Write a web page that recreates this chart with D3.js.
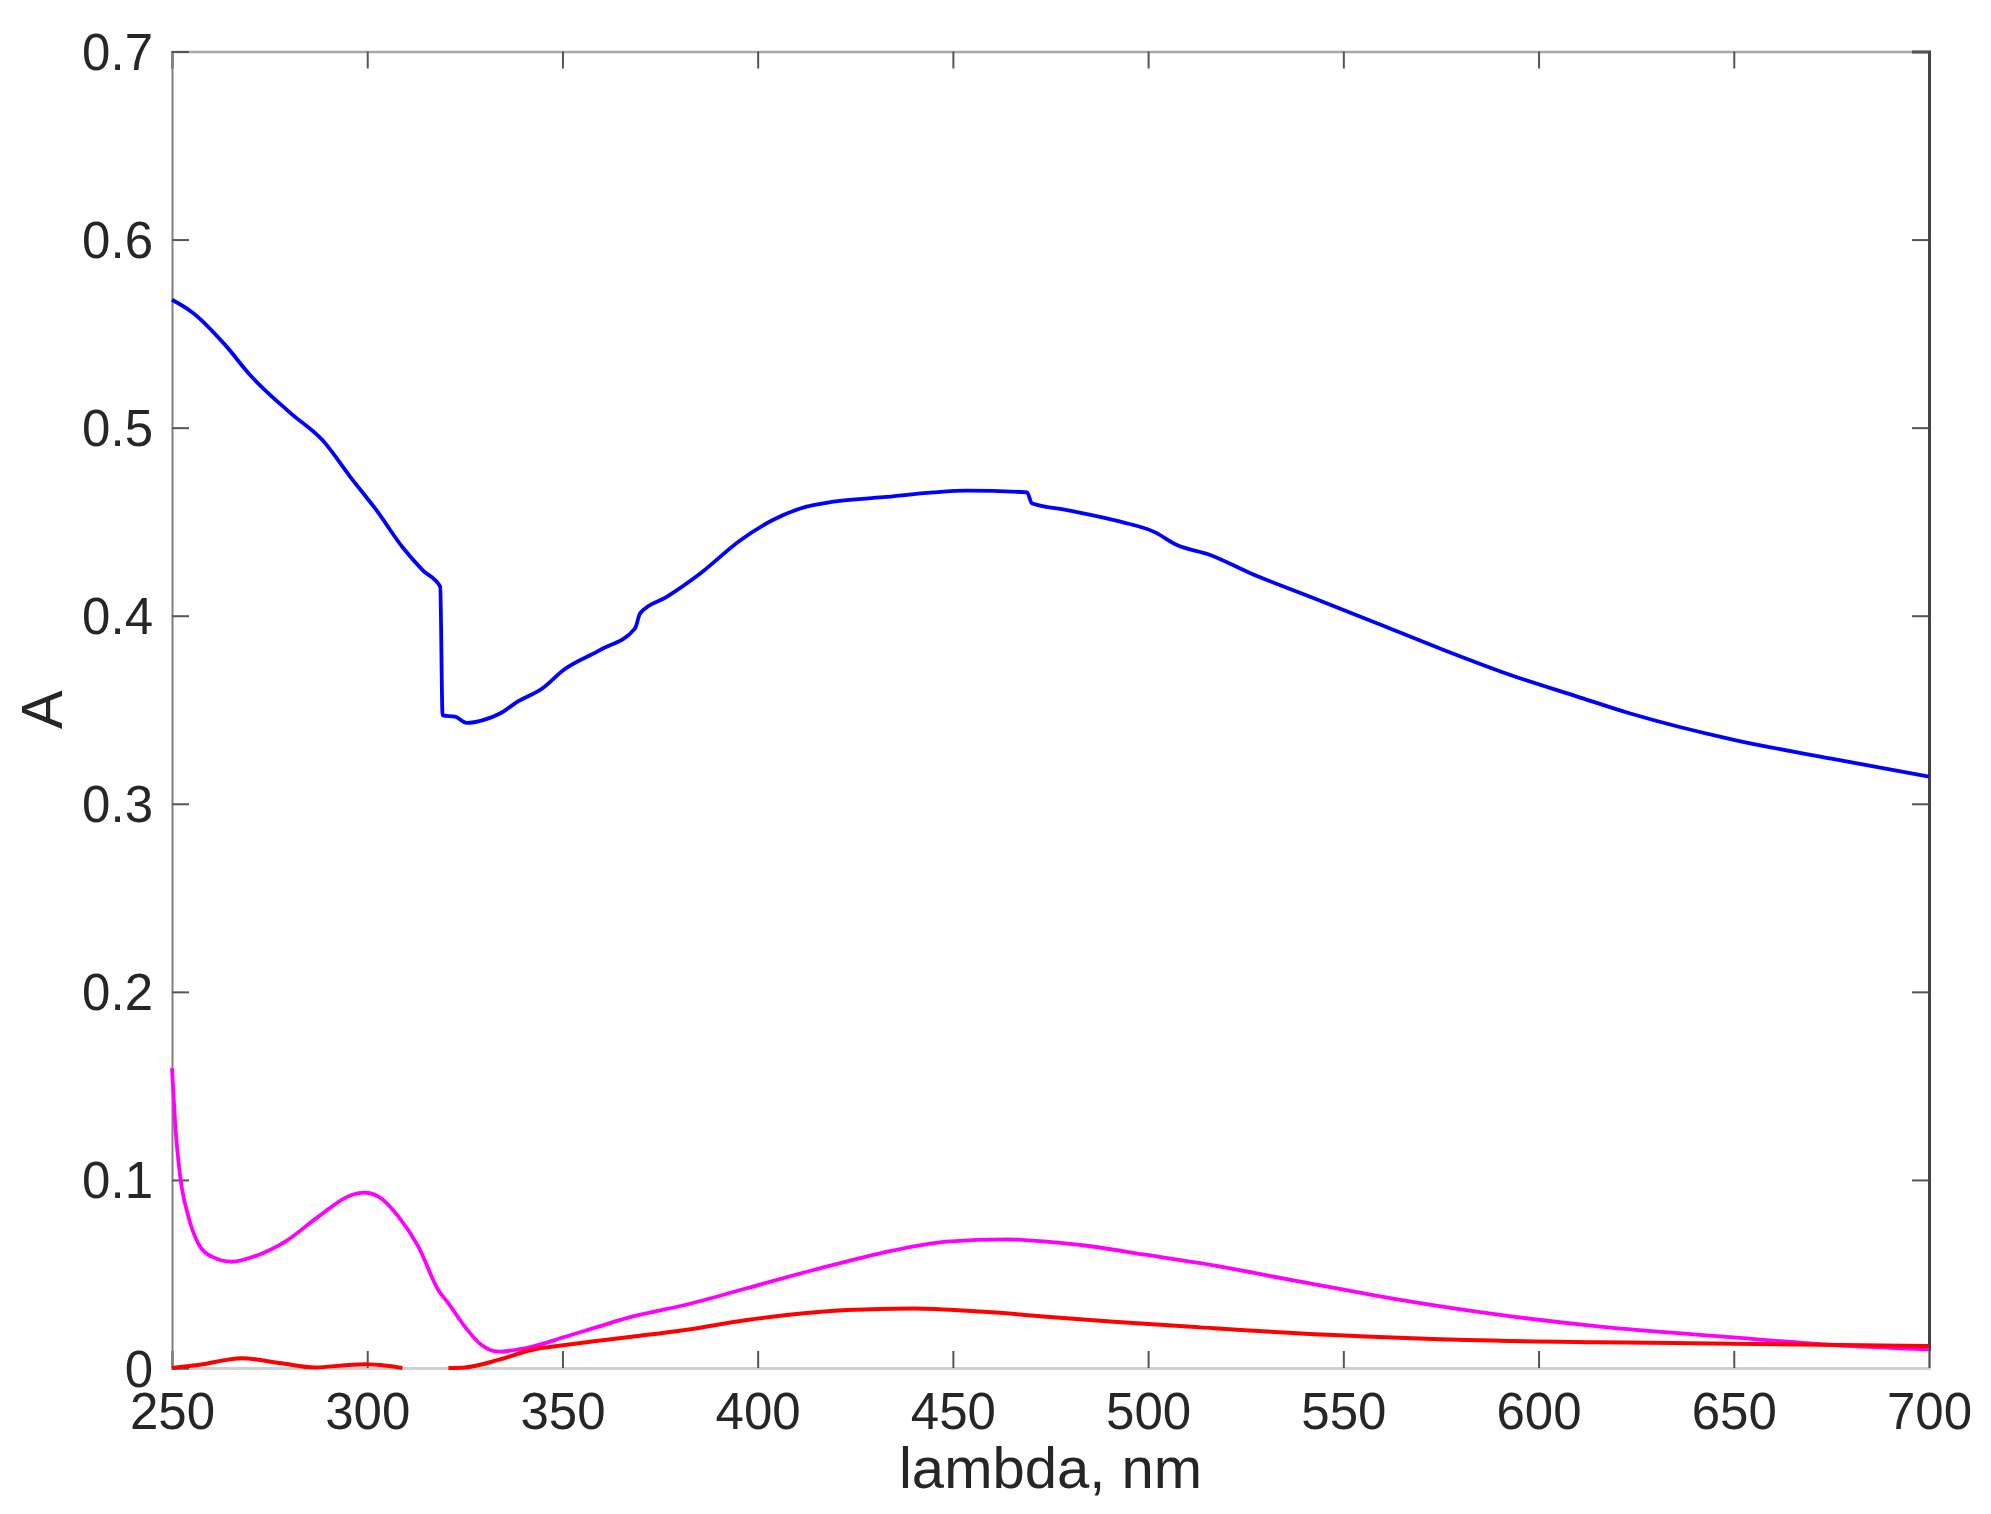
<!DOCTYPE html>
<html>
<head>
<meta charset="utf-8">
<script src="https://cdn.jsdelivr.net/npm/d3@7"></script>
<style>
  body { margin: 0; background: #fff; }
  text { font-family: "Liberation Sans", Arial, sans-serif; fill: #262626; }
</style>
</head>
<body>
<svg width="1991" height="1514"></svg>
<script>
// spectra: wavelength (nm) and absorbance
const blueNm = [250, 255.4, 263.6, 270, 280.2, 288.7, 295.6, 302.4, 309.2, 314.3, 318.7, 319.3, 322.5, 325.5, 329.7, 334, 338.3, 345, 350.2, 359.7, 368.6, 369.9, 376.7, 385.3, 395.5, 404, 410.9, 419.4, 432.2, 445, 453.6, 469, 470.2, 479.2, 492.9, 501.4, 507.4, 515.9, 526.2, 541.5, 558.6, 575.7, 592.8, 609.9, 623.5, 650, 675, 700];
const blueA = [0.568, 0.561, 0.544, 0.528, 0.508, 0.493, 0.474, 0.456, 0.436, 0.424, 0.4154, 0.347, 0.3463, 0.343, 0.3445, 0.348, 0.354, 0.3616, 0.371, 0.3818, 0.3933, 0.4013, 0.410, 0.4225, 0.440, 0.451, 0.457, 0.4606, 0.463, 0.4656, 0.4665, 0.4656, 0.4598, 0.4562, 0.450, 0.4447, 0.4376, 0.4323, 0.4226, 0.4101, 0.396, 0.3818, 0.3685, 0.357, 0.348, 0.334, 0.324, 0.3145];

const magentaNm = [250, 250.8, 252, 254.2, 256.7, 260.2, 265.3, 272.1, 279, 287.5, 296, 299.4, 302.9, 308, 313.1, 318.2, 320.8, 325, 329.3, 333.6, 342.1, 350.7, 359.2, 367.8, 381.4, 397.2, 414.3, 431.4, 448.5, 463.8, 482.6, 499.7, 513.4, 539, 564.6, 590.2, 615.8, 650, 675.6, 700];
const magentaA = [0.1594, 0.130, 0.1035, 0.0805, 0.0663, 0.0592, 0.0565, 0.0601, 0.0672, 0.0805, 0.092, 0.0932, 0.0911, 0.0805, 0.0645, 0.0415, 0.0344, 0.022, 0.0122, 0.0087, 0.0113, 0.0166, 0.022, 0.0273, 0.0335, 0.0424, 0.0521, 0.061, 0.0672, 0.0684, 0.0654, 0.0601, 0.0557, 0.0459, 0.0362, 0.0282, 0.022, 0.0163, 0.0122, 0.0099];

// red trace has a gap between ~309 and ~320 nm
const redNm = [250, 256.7, 267.9, 278, 286.6, 295.1, 299.4, 305, 309, 314, 320.8, 325, 333.6, 342.1, 350.7, 367.8, 381.4, 397.2, 422.8, 439.9, 457, 474.1, 491.2, 513.4, 547.5, 581.7, 615.8, 650, 700];
const redA = [0, 0.0016, 0.0052, 0.0025, 0.0003, 0.0016, 0.002, 0.0012, 0, null, 0, 0.0003, 0.0043, 0.0096, 0.0122, 0.0166, 0.0202, 0.0255, 0.0308, 0.0317, 0.030, 0.0273, 0.0246, 0.0216, 0.0175, 0.0149, 0.0137, 0.0129, 0.0117];

const xTicks = [250, 300, 350, 400, 450, 500, 550, 600, 650, 700];
const yTicks = [0, 0.1, 0.2, 0.3, 0.4, 0.5, 0.6, 0.7];

let svg = d3.select("svg");

const plotLeft = 172, plotRight = 1929, plotTop = 51.5, plotBottom = 1368;
const tickLen = 17;
const fontSize = 51;

let x = d3.scaleLinear().domain([250, 700]).range([plotLeft, plotRight]);
let y = d3.scaleLinear().domain([0, 0.7]).range([plotBottom, plotTop]);

svg.append("rect").attr("width", 1991).attr("height", 1514).attr("fill", "#fff");

// frame + ticks (MATLAB style, ticks pointing inwards)
let gTop = svg.append("g")
    .attr("transform", `translate(0,${plotTop})`)
    .call(d3.axisTop(x).tickValues(xTicks).tickSize(-tickLen).tickFormat(""));
gTop.select(".domain").attr("stroke", "#a8a8a8").attr("stroke-width", 2.5);

let gRight = svg.append("g")
    .attr("transform", `translate(${plotRight},0)`)
    .call(d3.axisRight(y).tickValues(yTicks).tickSize(-tickLen).tickFormat(""));
gRight.select(".domain").attr("stroke", "#444").attr("stroke-width", 3);

let gBottom = svg.append("g")
    .attr("transform", `translate(0,${plotBottom})`)
    .call(d3.axisBottom(x).tickValues(xTicks).tickSize(-tickLen).tickFormat(d3.format("d")));
gBottom.select(".domain").attr("stroke", "#d0d0d0").attr("stroke-width", 3);

let gLeft = svg.append("g")
    .attr("transform", `translate(${plotLeft},0)`)
    .call(d3.axisLeft(y).tickValues(yTicks).tickSize(-tickLen).tickFormat(d => d === 0 ? "0" : d3.format(".1f")(d)));
gLeft.select(".domain").attr("stroke", "#808080").attr("stroke-width", 2);

svg.selectAll(".tick line").attr("stroke", "#555").attr("stroke-width", 2);
svg.selectAll(".domain").attr("fill", "none");

gBottom.selectAll(".tick text")
    .attr("y", 61).attr("dy", 0)
    .style("font-size", `${fontSize}px`)
    .style("font-family", "Liberation Sans, Arial, sans-serif")
    .attr("fill", "#262626");

gLeft.selectAll(".tick text")
    .attr("x", -19).attr("dy", 0).attr("y", 18)
    .style("font-size", `${fontSize}px`)
    .style("font-family", "Liberation Sans, Arial, sans-serif")
    .attr("fill", "#262626");

// data lines
const series = [
    { nm: blueNm, a: blueA, color: "#0000ff", w: 3.8 },
    { nm: magentaNm, a: magentaA, color: "#ff00ff", w: 3.8 },
    { nm: redNm, a: redA, color: "#ff0000", w: 4 }
];

let line = d3.line()
    .defined(d => d[1] !== null)
    .x(d => x(d[0]))
    .y(d => y(d[1]))
    .curve(d3.curveMonotoneX);

svg.append("g")
    .selectAll(".spectrum")
    .data(series)
    .enter()
    .append("path")
    .attr("class", "spectrum")
    .attr("fill", "none")
    .attr("stroke", d => d.color)
    .attr("stroke-width", d => d.w)
    .attr("stroke-linejoin", "round")
    .attr("d", d => line(d.nm.map((v, i) => [v, d.a[i]])));

// axis labels
svg.append("text")
    .attr("x", (plotLeft + plotRight) / 2)
    .attr("y", 1488)
    .attr("text-anchor", "middle")
    .style("font-size", "58px")
    .text("lambda, nm");

svg.append("text")
    .attr("transform", `translate(62,${(plotTop + plotBottom) / 2}) rotate(-90)`)
    .attr("text-anchor", "middle")
    .style("font-size", "58px")
    .text("A");
</script>
</body>
</html>
